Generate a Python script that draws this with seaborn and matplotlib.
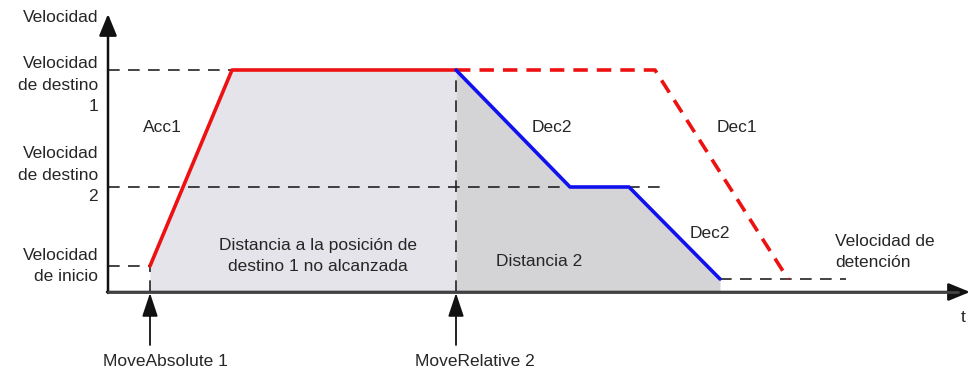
import matplotlib.pyplot as plt
import seaborn as sns
import pandas as pd

# time / velocity (arbitrary units, origin at the axes corner)
v_start, v_target1, v_target2, v_stop = 26, 222, 105, 13
t_move1, t_move2 = 42, 348

acc1_t = [42, 124, 348]
acc1_v = [26, 222, 222]
dec1_t = [348, 547, 680]
dec1_v = [222, 222, 13]
dec2_t = [348, 462, 521, 612]
dec2_v = [222, 105, 105, 13]

sns.set_theme(style="white")
plt.rcParams['font.family'] = ['Liberation Sans', 'DejaVu Sans']

fig = plt.figure(figsize=(9.78, 3.78), dpi=100)
ax = fig.add_axes([0, 0, 1, 1])
ax.set_xlim(-108, 870)
ax.set_ylim(-86, 292)
ax.axis('off')

# shaded distances
ax.fill_between(acc1_t, 0, acc1_v, color='#e4e4ea', lw=0, zorder=1)
ax.fill_between(dec2_t, 0, dec2_v, color='#d4d4d6', lw=0, zorder=1)

dash = dict(color='#222222', lw=1.2, dashes=(7, 5), zorder=2)
ax.plot([0, 124], [v_target1] * 2, **dash)
ax.plot([0, 555], [v_target2] * 2, **dash)
ax.plot([0, t_move1], [v_start] * 2, **dash)
ax.plot([612, 738], [v_stop] * 2, **dash)
ax.plot([t_move2, t_move2], [0, v_target1], **dash)
ax.plot([t_move1, t_move1], [0, v_start], **dash)

df_acc = pd.DataFrame({'t': acc1_t, 'v': acc1_v})
df_dec1 = pd.DataFrame({'t': dec1_t, 'v': dec1_v})
df_dec2 = pd.DataFrame({'t': dec2_t, 'v': dec2_v})
sns.lineplot(data=df_acc, x='t', y='v', sort=False, color='#ee1111', lw=2.6, ax=ax, zorder=4)
sns.lineplot(data=df_dec1, x='t', y='v', sort=False, color='#ee1111', lw=2.6, ax=ax, zorder=3,
             dashes=False, linestyle=(0, (4, 2.5)))
sns.lineplot(data=df_dec2, x='t', y='v', sort=False, color='#1111ee', lw=2.6, ax=ax, zorder=4)

# axes with arrows
arr = dict(arrowstyle='-|>,head_length=1.1,head_width=0.45', color='#111111', lw=1.8,
           shrinkA=0, shrinkB=0)
ax.annotate('', xy=(0, 278), xytext=(0, -1), arrowprops=arr, zorder=5)
ax.annotate('', xy=(862, 0), xytext=(-1, 0), arrowprops=arr, zorder=5)
ax.plot([0, 850], [0, 0], color='#444444', lw=2, zorder=5)

# command arrows
carr = dict(arrowstyle='-|>,head_length=1.2,head_width=0.4', color='#111111', lw=1.3,
            shrinkA=0, shrinkB=0)
for t in (t_move1, t_move2):
    ax.annotate('', xy=(t, -1), xytext=(t, -53), arrowprops=carr, zorder=5)

fs = 12.5
ls = 1.52
ax.text(-10, 274, 'Velocidad', ha='right', va='center', fontsize=fs)
ax.text(-10, 207, 'Velocidad\nde destino\n1', ha='right', va='center', fontsize=fs,
        linespacing=ls)
ax.text(-10, 117, 'Velocidad\nde destino\n2', ha='right', va='center', fontsize=fs,
        linespacing=ls)
ax.text(-10, 26, 'Velocidad\nde inicio', ha='right', va='center', fontsize=fs,
        linespacing=ls)
ax.text(855, -26, 't', ha='center', va='center', fontsize=fs)
ax.text(57, -70, 'MoveAbsolute 1', ha='center', va='center', fontsize=fs)
ax.text(367, -70, 'MoveRelative 2', ha='center', va='center', fontsize=fs)

ax.text(54, 165, 'Acc1', ha='center', va='center', fontsize=fs)
ax.text(444, 164, 'Dec2', ha='center', va='center', fontsize=fs)
ax.text(629, 164, 'Dec1', ha='center', va='center', fontsize=fs)
ax.text(602, 59, 'Dec2', ha='center', va='center', fontsize=fs)
ax.text(727, 40, 'Velocidad de\ndetención', ha='left', va='center', fontsize=fs,
        linespacing=ls)
ax.text(210, 36, 'Distancia a la posición de\ndestino 1 no alcanzada', ha='center',
        va='center', fontsize=fs, linespacing=ls)
ax.text(431, 30, 'Distancia 2', ha='center', va='center', fontsize=fs)

fig.savefig('out.png', dpi=100)
